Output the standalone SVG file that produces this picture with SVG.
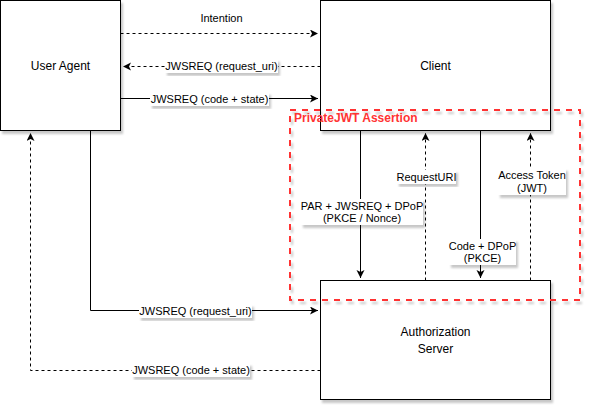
<svg xmlns="http://www.w3.org/2000/svg" width="593" height="412" viewBox="0 0 593 412">
<style>
.node{fill:#fff;stroke:#000;stroke-width:1;}
.t{font-family:"Liberation Sans",Arial,sans-serif;font-size:12px;fill:#000;text-anchor:middle;}
.l{font-family:"Liberation Sans",Arial,sans-serif;font-size:11px;fill:#000;text-anchor:middle;}
.lb{fill:#fff;stroke:none;}
.e{fill:none;stroke:#000;stroke-width:1;}
.d{stroke-dasharray:3 3;}
</style>
<defs>
<filter id="sh" x="-10%" y="-10%" width="130%" height="130%">
<feDropShadow dx="2" dy="3" stdDeviation="1.2" flood-color="#000" flood-opacity="0.22"/>
</filter>
<marker id="ar" markerUnits="userSpaceOnUse" markerWidth="10" markerHeight="10" refX="8" refY="4" orient="auto">
<path d="M0,0 L8,4 L0,8 L2,4 z" fill="#000"/>
</marker>
</defs>
<g id="user-agent"><rect class="node" x="0.5" y="0.5" width="120" height="130" filter="url(#sh)"/><text class="t" x="60.5" y="70">User Agent</text></g>
<g id="client"><rect class="node" x="320.5" y="0.5" width="230" height="130" filter="url(#sh)"/><text class="t" x="435.5" y="70">Client</text></g>
<g id="authorization-server"><rect class="node" x="320.5" y="280.5" width="230" height="119" filter="url(#sh)"/><text class="t" x="435.5" y="336">Authorization</text><text class="t" x="435.5" y="353">Server</text></g>
<g id="privatejwt-assertion"><rect x="290" y="110" width="290" height="190" fill="none" stroke="#FF3333" stroke-width="2" stroke-dasharray="6 6" filter="url(#sh)"/><text x="294" y="122" font-family="'Liberation Sans',Arial,sans-serif" font-size="12" font-weight="bold" fill="#FF3333">PrivateJWT Assertion</text></g>
<g id="connectors">
<path class="e d" d="M120.5,33.5 H318" marker-end="url(#ar)"/>
<text class="l" x="221.5" y="22">Intention</text>
<path class="e d" d="M320.5,66.5 H123" marker-end="url(#ar)"/>
<rect class="lb" x="165" y="59" width="113" height="14" filter="url(#sh)"/>
<text class="l" x="221.5" y="70">JWSREQ (request_uri)</text>
<path class="e" d="M120.5,98.5 H318" marker-end="url(#ar)"/>
<rect class="lb" x="150" y="92" width="119" height="14" filter="url(#sh)"/>
<text class="l" x="209.5" y="103">JWSREQ (code + state)</text>
<path class="e" d="M360.5,130.5 V278" marker-end="url(#ar)"/>
<rect class="lb" x="301" y="199" width="122" height="26" filter="url(#sh)"/>
<text class="l" x="362" y="210">PAR + JWSREQ + DPoP</text>
<text class="l" x="362" y="222">(PKCE / Nonce)</text>
<path class="e d" d="M425.5,280.5 V133" marker-end="url(#ar)"/>
<rect class="lb" x="397" y="170" width="59" height="14" filter="url(#sh)"/>
<text class="l" x="426.5" y="181">RequestURI</text>
<path class="e" d="M480.5,130.5 V278" marker-end="url(#ar)"/>
<rect class="lb" x="449" y="239" width="67" height="26" filter="url(#sh)"/>
<text class="l" x="482.5" y="250">Code + DPoP</text>
<text class="l" x="482.5" y="262">(PKCE)</text>
<path class="e d" d="M530.5,280.5 V133" marker-end="url(#ar)"/>
<rect class="lb" x="498" y="168" width="68" height="27" filter="url(#sh)"/>
<text class="l" x="532" y="179">Access Token</text>
<text class="l" x="532" y="192">(JWT)</text>
<path class="e" d="M90.5,130.5 V310.5 H318" marker-end="url(#ar)"/>
<rect class="lb" x="139" y="304" width="113" height="14" filter="url(#sh)"/>
<text class="l" x="195.5" y="315">JWSREQ (request_uri)</text>
<path class="e d" d="M320.5,370.5 H30.5 V133" marker-end="url(#ar)"/>
<rect class="lb" x="132" y="363" width="118" height="14" filter="url(#sh)"/>
<text class="l" x="191" y="374">JWSREQ (code + state)</text>
</g>
</svg>
